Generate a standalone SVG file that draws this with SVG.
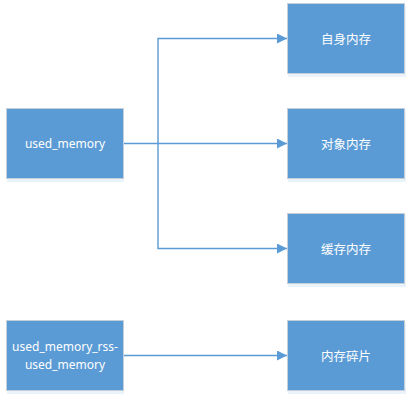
<svg xmlns="http://www.w3.org/2000/svg" width="412" height="400" viewBox="0 0 412 400">
<defs>
<style>
.box{fill:#5B9BD5;stroke:#C4CFD9;stroke-width:1}
.shadow{fill:#5B9BD5;opacity:0.12}
.lbl{fill:#FFFFFF;font-family:"Noto Sans","Noto Sans CJK SC",sans-serif;font-size:12px;text-anchor:middle;dominant-baseline:central}
.cn{font-family:"Noto Sans CJK SC",sans-serif;font-size:12.5px}
.conn{fill:none;stroke:#5B9BD5;stroke-width:1.4}
</style>
<marker id="arr" markerWidth="10" markerHeight="10" refX="10" refY="5" orient="auto" markerUnits="userSpaceOnUse" viewBox="0 0 10 10">
<path d="M0,0 L10,5 L0,10 Z" fill="#5B9BD5"/>
</marker>
</defs>
<rect width="412" height="400" fill="#FFFFFF"/>
<g id="connectors">
<path class="conn" d="M123,143.5 H287" marker-end="url(#arr)"/>
<path class="conn" d="M158,143.5 V38.5 H287" marker-end="url(#arr)"/>
<path class="conn" d="M158,143.5 V248.5 H287" marker-end="url(#arr)"/>
<path class="conn" d="M123,355.5 H287" marker-end="url(#arr)"/>
</g>
<g id="used_memory">
<rect class="shadow" x="7" y="110" width="117" height="72"/>
<rect class="box" x="6.5" y="108.5" width="117" height="70"/>
<text class="lbl" x="65" y="143.5">used_memory</text>
</g>
<g id="used_memory_rss">
<rect class="shadow" x="7" y="322" width="117" height="72"/>
<rect class="box" x="6.5" y="320.5" width="117" height="70"/>
<text class="lbl" x="65" y="346">used_memory_rss-</text>
<text class="lbl" x="65" y="364">used_memory</text>
</g>
<g id="self_mem">
<rect class="shadow" x="288" y="5" width="118" height="72"/>
<rect class="box" x="287.5" y="3.5" width="117" height="70"/>
<text class="lbl cn" x="346" y="38.5">自身内存</text>
</g>
<g id="obj_mem">
<rect class="shadow" x="288" y="110" width="118" height="72"/>
<rect class="box" x="287.5" y="108.5" width="117" height="70"/>
<text class="lbl cn" x="346" y="143.5">对象内存</text>
</g>
<g id="buf_mem">
<rect class="shadow" x="288" y="215" width="118" height="72"/>
<rect class="box" x="287.5" y="213.5" width="117" height="70"/>
<text class="lbl cn" x="346" y="248.5">缓存内存</text>
</g>
<g id="frag_mem">
<rect class="shadow" x="288" y="322" width="118" height="72"/>
<rect class="box" x="287.5" y="320.5" width="117" height="70"/>
<text class="lbl cn" x="346" y="355.5">内存碎片</text>
</g>
</svg>
